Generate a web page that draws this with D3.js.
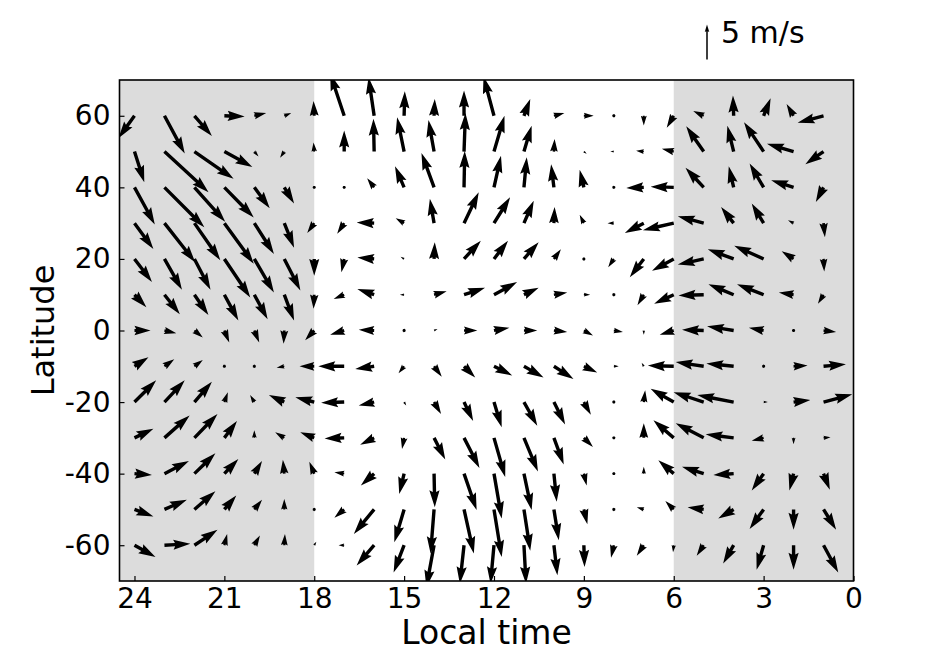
<!DOCTYPE html>
<html><head><meta charset="utf-8">
<script src="https://cdn.jsdelivr.net/npm/d3@7/dist/d3.min.js"></script>
<style>body{margin:0;background:#fff}</style>
</head><body>
<svg id="chart" width="947" height="662"></svg>
<script>
// ---- data ----
const hours = [24,23,22,21,20,19,18,17,16,15,14,13,12,11,10,9,8,7,6,5,4,3,2,1];
const lats = [60,50,40,30,20,10,0,-10,-20,-30,-40,-50,-60];
// eastward-on-screen (u) and northward (v) wind, m/s; rows = lats, cols = hours
const U = [
 [-2.3,2.9,2.5,2.9,1.7,1.0,-0.1,-2.0,-0.8,0.1,0.1,0.0,-1.5,0.9,1.5,1.4,0,0,-1.0,-1.5,-0.1,1.0,-1.0,-3.7],
 [1.4,6.3,5.6,4.0,0.6,-0.6,-0.1,0,-0.1,-1.0,-0.8,0.2,1.5,1.1,0.1,0.4,-0.5,-1.1,-1.7,-2.5,-0.9,-2.8,-3.8,-2.6],
 [2.9,5.7,4.4,4.2,2.2,1.4,0,0,-1.0,-1.3,-1.8,0.1,1.0,0.4,-0.4,-0.6,-0.4,-2.5,-3.3,-2.6,-0.7,-2.0,-3.2,-1.1],
 [2.7,4.4,3.7,4.2,2.8,1.4,-1.0,-1.0,-2.5,-1.2,-0.6,2.1,2.3,1.4,0.1,-0.6,-0.9,-2.7,-4.4,-3.7,-1.8,-1.7,-0.8,0.2],
 [2.5,2.5,2.3,3.7,2.8,2.3,0,-0.4,-2.4,-0.5,0.1,2.4,2.0,2.1,1.0,0,-0.8,-2.0,-3.1,-3.7,-3.7,-4.2,-1.7,0.1],
 [1.7,2.2,2.0,2.0,1.9,1.4,-0.1,-1.5,-2.4,-0.6,1.8,3.0,3.3,2.1,1.9,0.9,0,-0.9,-2.8,-3.6,-3.6,-3.8,-2.1,-0.8],
 [2.3,1.7,1.2,0.7,0.7,-0.1,-1.3,-2.0,-2.2,-0.3,0.5,1.9,2.2,1.9,1.9,1.3,1.3,0,-2.0,-3.1,-3.8,-2.1,0,1.8],
 [2.0,1.4,1.2,0,0,-1.1,-2.1,-3.7,-2.7,-0.8,1.1,1.6,2.6,2.8,2.8,1.9,0.7,-0.3,-3.7,-4.0,-3.9,-0.2,2.0,3.2],
 [3.1,2.9,2.5,0.5,-0.6,-2.2,-2.7,-3.3,-2.2,0.3,1.0,1.3,1.1,1.9,1.6,1.0,0,0.2,-3.3,-4.3,-5.2,0.6,2.4,4.1],
 [2.7,3.6,3.3,1.8,0,-1.3,-2.0,-2.8,-2.0,-0.3,1.6,2.2,1.6,2.0,1.4,1.3,0.2,0,-2.9,-4.0,-4.0,-1.7,0,1.0],
 [2.5,3.5,3.0,2.0,1.1,-0.2,-0.7,-1.4,-1.9,-0.7,0.1,1.8,1.1,1.1,0.4,0.4,0,0,-2.2,-3.1,-2.9,-1.7,-0.6,0.9],
 [2.7,3.2,3.0,1.7,1.1,0,-0.4,-1.4,-2.9,-1.4,-0.5,1.4,1.1,0.9,0.7,0.5,0,-1.0,-1.2,-2.3,-2.2,-2.0,0,1.8],
 [3.0,3.7,3.3,0.4,0.8,0.1,0.3,-0.8,-2.5,-1.5,-1.1,-0.6,-0.5,0.3,0.5,0.1,-0.4,-1.0,-0.1,-1.0,-1.5,-1.0,0,2.1]
];
const V = [
 [-3.2,-5.4,-2.9,-0.1,0.4,0.4,2.1,6.0,5.5,3.5,2.4,3.6,5.6,2.4,0.4,0,0,-1.4,-1.7,0.7,2.9,2.5,1.7,-1.0],
 [-4.4,-5.8,-3.9,-2.2,-0.7,-0.9,1.3,3.0,4.7,4.9,4.5,5.5,5.1,3.7,1.8,-0.3,0,0.1,0.4,3.6,3.7,4.2,1.1,-1.8],
 [-5.3,-5.7,-4.9,-4.3,-3.0,-2.3,0,0,1.3,3.0,4.9,5.2,4.5,4.3,3.3,2.5,0.2,-0.1,0.1,2.8,3.0,3.4,1.0,-2.1],
 [-3.7,-5.6,-5.3,-5.8,-4.4,-3.5,-1.4,-1.5,0.1,0.7,3.5,4.4,3.7,3.2,2.3,1.2,0,-1.4,-1.0,1.0,2.3,2.8,0.4,-2.0],
 [-3.3,-4.4,-4.4,-5.5,-4.8,-4.5,-2.4,-1.9,0.2,0.3,2.4,2.6,2.6,2.4,1.4,0,-1.2,-2.6,-1.7,-0.8,1.4,1.9,1.1,-1.8],
 [-1.8,-2.8,-2.9,-3.7,-3.5,-3.7,-2.0,-0.6,0.8,0,0.5,1.0,1.8,1.0,0.3,0,-0.3,-1.5,-1.3,-0.1,1.5,1.5,0.3,-1.3],
 [0,-0.4,-1.0,-1.7,-1.7,-1.9,-1.4,-0.6,0.1,0.3,0.2,0,0.4,0,-0.2,-0.7,-0.2,-0.6,-0.6,0.1,0.6,0.4,0,-0.2],
 [1.3,1.0,0.9,0,-0.1,-0.2,0,0,-0.4,-1.0,-1.5,-1.6,-1.3,-1.6,-1.8,-0.9,0,0.5,0.1,0.6,0.4,0.1,0.1,0.3],
 [3.1,3.1,2.9,1.4,1.0,1.0,0.7,-0.1,-0.5,-0.5,-1.7,-2.7,-3.6,-3.4,-3.2,-1.8,0,1.7,1.9,1.4,1.0,0,0.3,1.1],
 [1.3,3.2,3.4,2.4,1.1,0.8,0.8,-0.1,-1.0,-1.6,-3.1,-4.3,-5.6,-4.8,-3.8,-1.3,0,2.1,2.5,2.1,0.5,-0.4,-0.9,0.1],
 [-0.2,1.8,2.9,2.1,1.8,2.0,1.7,0.2,-1.7,-2.9,-4.8,-5.2,-6.4,-5.2,-4.0,-1.7,0,1.0,1.9,1.0,-0.2,-2.4,-2.4,-2.3],
 [-1.0,1.4,2.6,2.0,1.4,1.5,-0.2,-1.2,-3.5,-4.7,-6.3,-6.3,-6.8,-5.9,-4.4,-2.1,-0.3,0.3,1.2,0.3,-1.3,-2.8,-2.9,-2.9],
 [-1.7,0.2,2.2,1.6,1.4,1.6,0.5,0,-2.9,-3.9,-6.0,-5.5,-5.5,-5.5,-4.3,-3.1,-1.8,-1.5,-1.0,-1.5,-2.6,-3.5,-3.5,-3.9]
];
const xTicks = [24,21,18,15,12,9,6,3,0];
const yTicks = [60,40,20,0,-20,-40,-60];
const nightBands = [[24.5,18],[6,0]];
const keySpeed = 5;
const keyLabel = "5 m/s";

// ---- layout ----
const L = 119.5, R = 853.5, T = 80, B = 581;
const svg = d3.select("#chart");
const x = d3.scaleLinear().domain([24.5,0]).range([L,R]);
const y = d3.scaleLinear().domain([-70,70]).range([B,T]);
const pxPerMs = 7;
const W = 3.4;

svg.append("defs").append("clipPath").attr("id","clip")
  .append("rect").attr("x",L).attr("y",T).attr("width",R-L).attr("height",B-T);

svg.selectAll("rect.night").data(nightBands).enter().append("rect")
  .attr("class","night")
  .attr("x",d=>x(d[0])).attr("width",d=>x(d[1])-x(d[0]))
  .attr("y",T).attr("height",B-T).attr("fill","#dcdcdc");

// matplotlib-like quiver polygon
function arrowPoly(x0,y0,u,v,w){
  const len = Math.hypot(u,v)*pxPerMs/w; // in width units
  let X, Y;
  if (len < 1){
    X=[];Y=[];
    for(let k=0;k<8;k++){const th=k*Math.PI/3;X.push(Math.cos(th)*0.5);Y.push(Math.sin(th)*0.5);}
  } else if (len < 5){
    const s=len/5;
    X=[0,0.5,0,5,0,0.5,0,0].map(d=>d*s);
    Y=[0.5,0.5,1.5,0,-1.5,-0.5,-0.5,0.5].map(d=>d*s);
  } else {
    X=[0,len-4.5,len-5,len,len-5,len-4.5,0,0];
    Y=[0.5,0.5,1.5,0,-1.5,-0.5,-0.5,0.5];
  }
  const a = Math.atan2(-v,u), c=Math.cos(a), s=Math.sin(a);
  return X.map((xx,i)=>[x0+w*(xx*c-Y[i]*s), y0+w*(xx*s+Y[i]*c)]);
}

const vecs = [];
lats.forEach((lat,i)=>hours.forEach((h,j)=>vecs.push({h,lat,u:U[i][j],v:V[i][j]})));

svg.append("g").attr("clip-path","url(#clip)")
  .selectAll("path").data(vecs).enter().append("path")
  .attr("d",d=>"M"+arrowPoly(x(d.h),y(d.lat),d.u,d.v,W).map(p=>p[0].toFixed(2)+","+p[1].toFixed(2)).join("L")+"Z")
  .attr("fill","#000");

// axes
const fontFam = '"DejaVu Sans", sans-serif';
const xAxis = svg.append("g").attr("transform",`translate(0,${B})`)
  .call(d3.axisBottom(x).tickValues(xTicks).tickSize(-5).tickPadding(7).tickFormat(d=>String(d)));
const yAxis = svg.append("g").attr("transform",`translate(${L},0)`)
  .call(d3.axisLeft(y).tickValues(yTicks).tickSize(-5).tickPadding(9).tickFormat(d=>String(d)));
[xAxis,yAxis].forEach(g=>{
  g.select(".domain").remove();
  g.selectAll(".tick line").attr("stroke","#000").attr("stroke-width",1.2);
  g.selectAll(".tick text").attr("font-family",fontFam).attr("font-size",28).attr("fill","#000");
});

svg.append("rect").attr("x",L).attr("y",T).attr("width",R-L).attr("height",B-T)
  .attr("fill","none").attr("stroke","#000").attr("stroke-width",1.6);

svg.append("text").attr("x",(L+R)/2).attr("y",644).attr("text-anchor","middle")
  .attr("font-family",fontFam).attr("font-size",33).text("Local time");
svg.append("text").attr("transform",`translate(54,${(T+B)/2}) rotate(-90)`).attr("text-anchor","middle")
  .attr("font-family",fontFam).attr("font-size",32).text("Latitude");

// quiver key
svg.append("path")
  .attr("d","M"+arrowPoly(707,59.5,0,keySpeed,1.5).map(p=>p.join(",")).join("L")+"Z")
  .attr("fill","#000");
svg.append("text").attr("x",721).attr("y",43).attr("font-family",fontFam).attr("font-size",30).text(keyLabel);
</script>
</body></html>
